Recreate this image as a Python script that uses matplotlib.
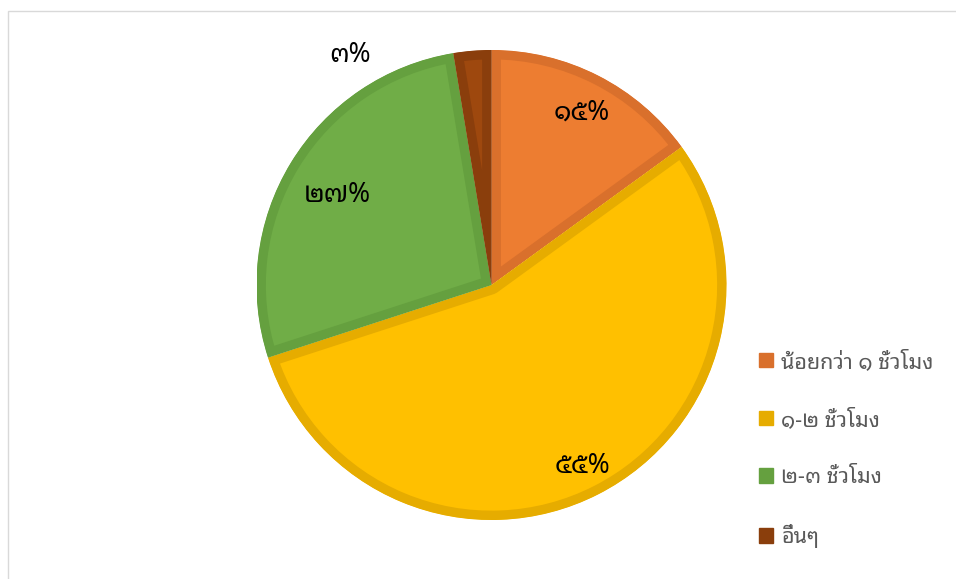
import matplotlib
matplotlib.use('Agg')
import matplotlib.pyplot as plt
from matplotlib.patches import Rectangle, Patch

plt.rcParams['font.family'] = ['Noto Sans Thai Looped', 'DejaVu Sans']

categories = ['น้อยกว่า ๑ ชั่วโมง', '๑-๒ ชั่วโมง', '๒-๓ ชั่วโมง', 'อื่นๆ']
values = [15, 55, 27.4, 2.6]
colors = ['#ED7D31', '#FFC000', '#70AD47', '#9E480E']
edge_colors = ['#D9702C', '#E6AC00', '#65A03F', '#8A3E0C']

# label positions in axes data units (pie radius = 1)
label_pos = [(0.385, 0.732), (0.389, -0.770), (-0.657, 0.383), (-0.602, 0.979)]

thai_digits = str.maketrans('0123456789', '๐๑๒๓๔๕๖๗๘๙')

def thai_pct(v):
    return str(int(round(v))).translate(thai_digits) + '%'

fig = plt.figure(figsize=(9.56, 5.79), dpi=100)

# chart area border
fig.patches.append(Rectangle((8 / 956, -0.1), 1.1, 1.1 - 11 / 579, transform=fig.transFigure,
                             fill=False, edgecolor='#D9D9D9', linewidth=1.0))

ax = fig.add_axes([(491.5 - 235) / 956, (579 - 285 - 235) / 579, 470 / 956, 470 / 579])
wedges, _ = ax.pie(values, colors=colors, startangle=90, counterclock=False, radius=1)
for w, ec in zip(wedges, edge_colors):
    # inner border: thick stroke clipped to the wedge itself
    w.set_edgecolor(ec)
    w.set_linewidth(13.5)
    w.set_joinstyle('round')
    w.set_clip_on(True)
    w.set_clip_path(w.get_path(), w.get_transform())

for v, (x, y) in zip(values, label_pos):
    ax.text(x, y, thai_pct(v), ha='center', va='center', fontsize=19,
            fontweight='bold', color='black')

ax.set_xlim(-1, 1)
ax.set_ylim(-1, 1)
ax.set_aspect('equal')
ax.axis('off')

handles = [Patch(facecolor=c, edgecolor=c) for c in edge_colors]
fig.legend(handles, categories, loc='upper left', bbox_to_anchor=(748 / 956, 1 - 340 / 579),
           frameon=False, fontsize=15.5, labelcolor='#595959', handlelength=0.65,
           handleheight=0.65, handletextpad=0.4, labelspacing=1.68, borderpad=0)

fig.savefig('out.png', dpi=100)
